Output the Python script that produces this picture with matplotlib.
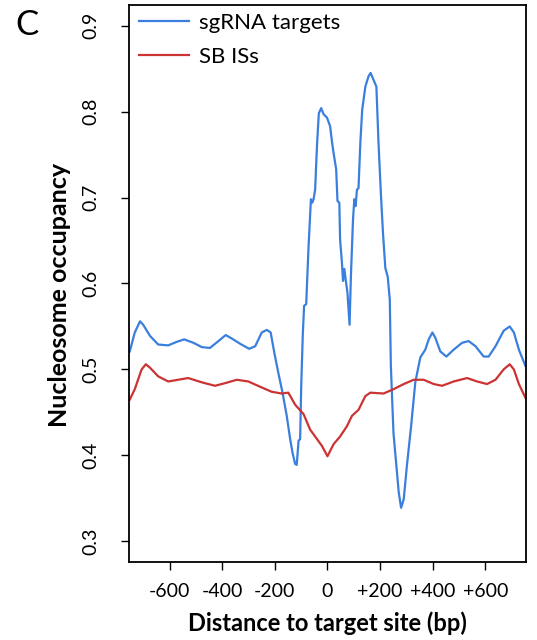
import numpy as np
import matplotlib
matplotlib.use('Agg')
import matplotlib.pyplot as plt

plt.rcParams['font.family'] = ['Lato', 'DejaVu Sans']

# sgRNA targets (blue)
sg_x = [-752, -733, -713, -701, -675, -644, -606, -574, -545, -510, -478, -447,
        -415, -387, -364, -333, -298, -275, -250, -231, -216, -202, -187, -171,
        -155, -142, -133, -123, -117, -110, -104, -100, -94, -89, -81, -72, -63,
        -58, -53, -47, -40, -33, -24, -15, -2, 10, 17, 23, 33, 38, 45, 48, 55,
        59, 64, 69, 76, 84, 89, 97, 102, 107, 112, 118, 125, 132, 144, 156, 164,
        175, 186, 194, 203, 211, 220, 229, 237, 241, 251, 262, 271, 280, 290,
        302, 318, 334, 353, 372, 385, 399, 410, 429, 452, 480, 512, 537, 563,
        594, 613, 639, 670, 693, 709, 728, 753]
sg_y = [0.521, 0.543, 0.556, 0.552, 0.539, 0.529, 0.528, 0.532, 0.535, 0.531,
        0.526, 0.525, 0.533, 0.540, 0.536, 0.530, 0.524, 0.527, 0.543, 0.546,
        0.543, 0.519, 0.496, 0.473, 0.446, 0.419, 0.403, 0.390, 0.389, 0.417,
        0.419, 0.480, 0.540, 0.574, 0.576, 0.643, 0.698, 0.694, 0.698, 0.709,
        0.760, 0.798, 0.804, 0.797, 0.793, 0.783, 0.765, 0.752, 0.733, 0.696,
        0.694, 0.651, 0.624, 0.603, 0.617, 0.605, 0.589, 0.552, 0.608, 0.674,
        0.698, 0.690, 0.709, 0.711, 0.764, 0.802, 0.829, 0.841, 0.845, 0.837,
        0.829, 0.764, 0.705, 0.659, 0.618, 0.608, 0.581, 0.504, 0.426, 0.388,
        0.357, 0.339, 0.349, 0.388, 0.434, 0.485, 0.514, 0.523, 0.535, 0.543,
        0.537, 0.521, 0.515, 0.523, 0.531, 0.533, 0.527, 0.515, 0.515, 0.527,
        0.545, 0.550, 0.543, 0.523, 0.504]

# SB insertion sites (red)
sb_x = [-752, -733, -707, -691, -675, -644, -606, -568, -530, -478, -428, -390,
        -345, -301, -250, -212, -174, -149, -123, -91, -66, -47, -21, 0, 23, 48,
        74, 93, 118, 144, 163, 213, 251, 290, 328, 366, 404, 436, 480, 531, 569,
        607, 639, 670, 693, 709, 728, 753]
sb_y = [0.465, 0.477, 0.500, 0.506, 0.502, 0.492, 0.486, 0.488, 0.490, 0.485,
        0.481, 0.484, 0.488, 0.486, 0.479, 0.474, 0.472, 0.473, 0.459, 0.448,
        0.430, 0.422, 0.411, 0.399, 0.413, 0.422, 0.434, 0.446, 0.453, 0.469,
        0.473, 0.472, 0.477, 0.483, 0.488, 0.488, 0.483, 0.481, 0.486, 0.490,
        0.486, 0.483, 0.488, 0.500, 0.506, 0.500, 0.483, 0.467]

xticks = [-600, -400, -200, 0, 200, 400, 600]
xticklabels = ['-600', '-400', '-200', '0', '+200', '+400', '+600']
yticks = [0.3, 0.4, 0.5, 0.6, 0.7, 0.8, 0.9]

fig = plt.figure(figsize=(5.37, 6.4), dpi=100)
ax = fig.add_axes([0.2402, 0.1219, 0.7393, 0.8703])

ax.plot(sg_x, sg_y, color='#3a7fde', lw=1.6, label='sgRNA targets')
ax.plot(sb_x, sb_y, color='#cc3333', lw=1.6, label='SB ISs')

ax.set_xlim(-755, 755)
ax.set_ylim(0.276, 0.924)
ax.set_xticks(xticks)
ax.set_xticklabels(xticklabels)
ax.set_yticks(yticks)
ax.set_yticklabels(['0.3', '0.4', '0.5', '0.6', '0.7', '0.8', '0.9'],
                   rotation=90, va='center')
ax.tick_params(axis='both', labelsize=14, length=6, width=1)
ax.tick_params(axis='y', pad=15)
ax.tick_params(axis='x', pad=9)
for s in ax.spines.values():
    s.set_linewidth(1.3)

ax.legend(loc='upper left', bbox_to_anchor=(0.025, 0.986), frameon=False,
          fontsize=16, handlelength=2.25, handletextpad=0.45,
          borderaxespad=0, borderpad=0, labelspacing=0.63)

fig.text(0.1117, 0.539, 'Nucleosome occupancy', rotation=90, fontsize=18,
         fontweight='bold', ha='center', va='center')
fig.text(0.609, 0.027, 'Distance to target site (bp)', fontsize=17,
         fontweight='bold', ha='center', va='center')
fig.text(0.028, 0.961, 'C', fontsize=25, ha='left', va='center')

fig.savefig('out.png', dpi=100)
